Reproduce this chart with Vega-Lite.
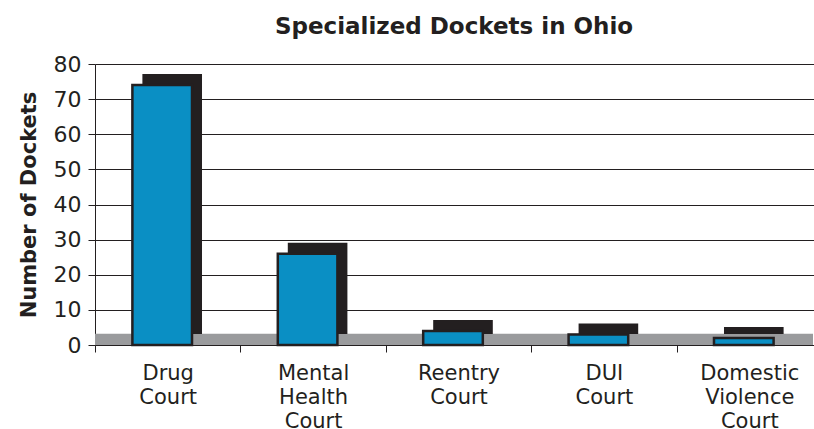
{
  "$schema": "https://vega.github.io/schema/vega-lite/v6.json",
  "autosize": {"type": "none"},
  "padding": {"left": 95, "top": 64, "right": 1, "bottom": 84},
  "width": 718,
  "height": 281,
  "background": "white",
  "config": {
    "font": "DejaVu Sans",
    "view": {"stroke": null},
    "axis": {"labelColor": "#231f20", "titleColor": "#231f20"},
    "axisY": {
      "title": "Number of Dockets",
      "titleFontSize": 21,
      "titleFontWeight": "bold",
      "titlePadding": 14,
      "values": [0, 10, 20, 30, 40, 50, 60, 70, 80],
      "labelOverlap": false,
      "labelFontSize": 22,
      "labelPadding": 7,
      "tickSize": 7,
      "tickColor": "#231f20",
      "domainColor": "#231f20",
      "grid": true,
      "gridColor": "#231f20",
      "gridWidth": 1,
      "gridOpacity": 1
    },
    "axisX": {
      "title": null,
      "labelAngle": 0,
      "labelExpr": "split(datum.label, ' ')",
      "labelFontSize": 21,
      "labelLineHeight": 24,
      "labelPadding": 10,
      "labelBaseline": "top",
      "tickBand": "extent",
      "tickSize": 7,
      "tickColor": "#231f20",
      "domain": false,
      "grid": false
    }
  },
  "title": {
    "text": "Specialized Dockets in Ohio",
    "fontSize": 23,
    "fontWeight": "bold",
    "font": "DejaVu Sans",
    "color": "#231f20",
    "anchor": "middle",
    "offset": 14
  },
  "data": {
    "values": [
      {"court": "Drug Court", "dockets": 74},
      {"court": "Mental Health Court", "dockets": 26},
      {"court": "Reentry Court", "dockets": 4},
      {"court": "DUI Court", "dockets": 3},
      {"court": "Domestic Violence Court", "dockets": 2}
    ]
  },
  "layer": [
    {
      "data": {"values": [{}]},
      "mark": {"type": "rect", "color": "#9a9b9d"},
      "encoding": {
        "y": {"datum": 0, "type": "quantitative", "scale": {"domain": [0, 80], "nice": false}, "axis": {"title": "Number of Dockets"}},
        "y2": {"datum": 3.2}
      }
    },
    {
      "mark": {"type": "bar", "color": "#231f20", "width": {"band": 0.41}, "xOffset": 4.5, "yOffset": -11},
      "encoding": {
        "x": {"field": "court", "type": "nominal", "sort": null, "scale": {"paddingInner": 0, "paddingOuter": 0, "range": [0, 727]}},
        "y": {"field": "dockets", "type": "quantitative", "scale": {"domain": [0, 80], "nice": false}, "axis": {"title": "Number of Dockets"}}
      }
    },
    {
      "mark": {"type": "bar", "color": "#0a8fc4", "stroke": "#231f20", "strokeWidth": 2.5, "width": {"band": 0.41}, "xOffset": -5.5},
      "encoding": {
        "x": {"field": "court", "type": "nominal", "sort": null, "scale": {"paddingInner": 0, "paddingOuter": 0, "range": [0, 727]}},
        "y": {"field": "dockets", "type": "quantitative", "scale": {"domain": [0, 80], "nice": false}, "axis": {"title": "Number of Dockets"}}
      }
    }
  ]
}
